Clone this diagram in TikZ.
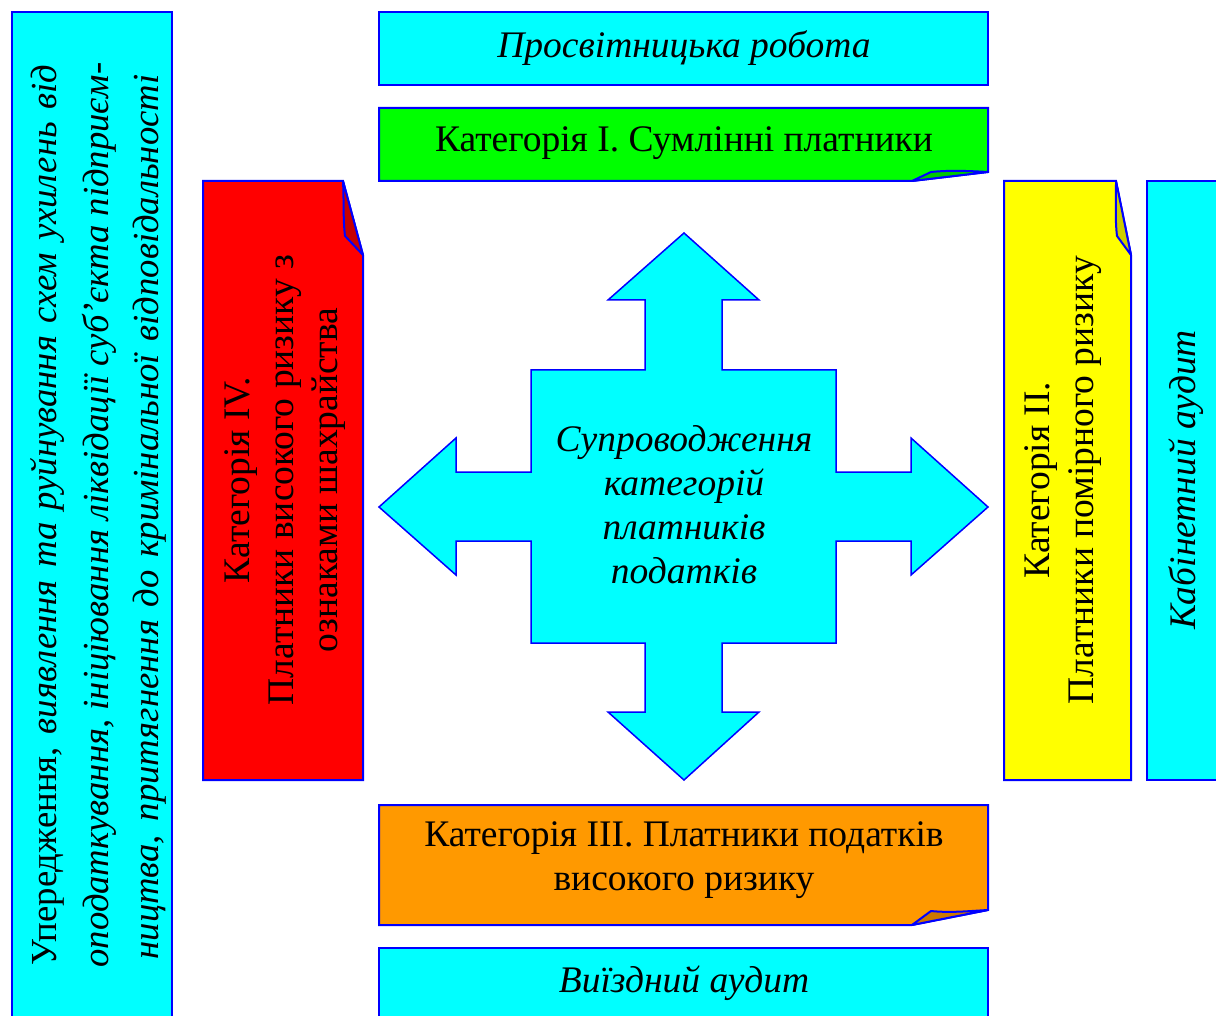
\documentclass[tikz,border=0pt]{standalone}
\usepackage{fontspec}
\setmainfont{Liberation Serif}
\definecolor{bordblue}{RGB}{0,0,255}
\definecolor{cyanfill}{RGB}{0,255,255}
\definecolor{greenfill}{RGB}{0,255,0}
\definecolor{greenfold}{RGB}{0,200,0}
\definecolor{redfill}{RGB}{255,0,0}
\definecolor{redfold}{RGB}{200,0,0}
\definecolor{yellowfill}{RGB}{255,255,0}
\definecolor{yellowfold}{RGB}{205,205,0}
\definecolor{orangefill}{RGB}{255,153,0}
\definecolor{orangefold}{RGB}{205,120,0}
\tikzset{
  panel/.style={draw=bordblue, line width=2pt, line join=miter},
  fold/.style={draw=bordblue, line width=2pt, line join=round},
  txt/.style={font=\fontsize{37.5}{44}\selectfont, align=center, inner sep=0pt},
  itxt/.style={txt, font=\fontsize{37.5}{44}\selectfont\itshape},
  sidetxt/.style={font=\fontsize{36.7}{44}\selectfont, inner sep=0pt, rotate=90},
}
\begin{document}
\begin{tikzpicture}[x=1pt,y=-1pt]
\useasboundingbox (0,0) rectangle (1216,1016);

% left tall panel, justified lines set sideways
\draw[panel, fill=cyanfill] (12,12) rectangle (172,1030);
\node[sidetxt] (l1) at (47,515)
  {\makebox[900pt][s]{Упередження, \textit{виявлення та руйнування схем ухилень від}}};
\node[sidetxt, font=\fontsize{36.7}{44}\selectfont\itshape] (l2) at (99,515)
  {\makebox[905pt][s]{оподаткування, ініціювання ліквідації суб'єкта підприєм-}};
\node[sidetxt, font=\fontsize{36.7}{44}\selectfont\itshape] (l3) at (150,517)
  {\makebox[885pt][s]{ництва, притягнення до кримінальної відповідальності}};

% top and bottom strips
\draw[panel, fill=cyanfill] (379,12) rectangle (988,85);
\node[itxt] (edu) at (684,48) {Просвітницька робота};
\draw[panel, fill=cyanfill] (379,948) rectangle (988,1030);
\node[itxt] (field) at (684,983) {Виїздний аудит};

% category I (fold at lower right)
\draw[panel, fill=greenfill] (379,108) -- (988,108) -- (988,172) -- (912,181) -- (379,181) -- cycle;
\draw[fold, fill=greenfold] (912,181) -- (931,172) .. controls (950,170) and (970,171) .. (988,172) -- cycle;
\node[txt] (cat1) at (684,143) {Категорія I. Сумлінні платники};

% category III (fold at lower right)
\draw[panel, fill=orangefill] (379,805) -- (988,805) -- (988,910) -- (912,925) -- (379,925) -- cycle;
\draw[fold, fill=orangefold] (912,925) -- (931,911) .. controls (950,913) and (970,911) .. (988,910) -- cycle;
\node[txt] (cat3) at (684,860) {Категорія III. Платники податків\\високого ризику};

% category IV (fold at upper right)
\draw[panel, fill=redfill] (203,181) -- (343,181) -- (363,255) -- (363,780) -- (203,780) -- cycle;
\draw[fold, fill=redfold] (343,181) -- (363,255) -- (345,236) .. controls (343,220) and (344,200) .. (343,181) -- cycle;
\node[txt, rotate=90] (cat4) at (285,480) {Категорія IV.\\Платники високого ризику з\\ознаками шахрайства};

% category II (fold at upper right)
\draw[panel, fill=yellowfill] (1004,181) -- (1116,181) -- (1131,255) -- (1131,780) -- (1004,780) -- cycle;
\draw[fold, fill=yellowfold] (1116,181) -- (1131,255) -- (1117,236) .. controls (1115,220) and (1116,200) .. (1116,181) -- cycle;
\node[txt, rotate=90] (cat2) at (1063,480) {Категорія II.\\Платники помірного ризику};

% desk audit panel
\draw[panel, fill=cyanfill] (1147,181) rectangle (1230,780);
\node[itxt, rotate=90] (desk) at (1186,480) {Кабінетний аудит};

% central four-way arrow
\draw[draw=bordblue, line width=1.5pt, fill=cyanfill]
  (684,233) -- (759,300) -- (722,300) -- (722,370) -- (836,370)
  -- (836,472) -- (911,472) -- (911,438) -- (988,507) -- (911,575) -- (911,541) -- (836,541)
  -- (836,643) -- (722,643) -- (722,712) -- (759,712) -- (684,780) -- (608,712) -- (645,712) -- (645,643)
  -- (531,643) -- (531,541) -- (456,541) -- (456,575) -- (379,507) -- (456,438) -- (456,472) -- (531,472)
  -- (531,370) -- (645,370) -- (645,300) -- (608,300) -- cycle;
\node[itxt] (hub) at (684,505)
  {Супроводження\\категорій\\платників\\податків};
\end{tikzpicture}
\end{document}
